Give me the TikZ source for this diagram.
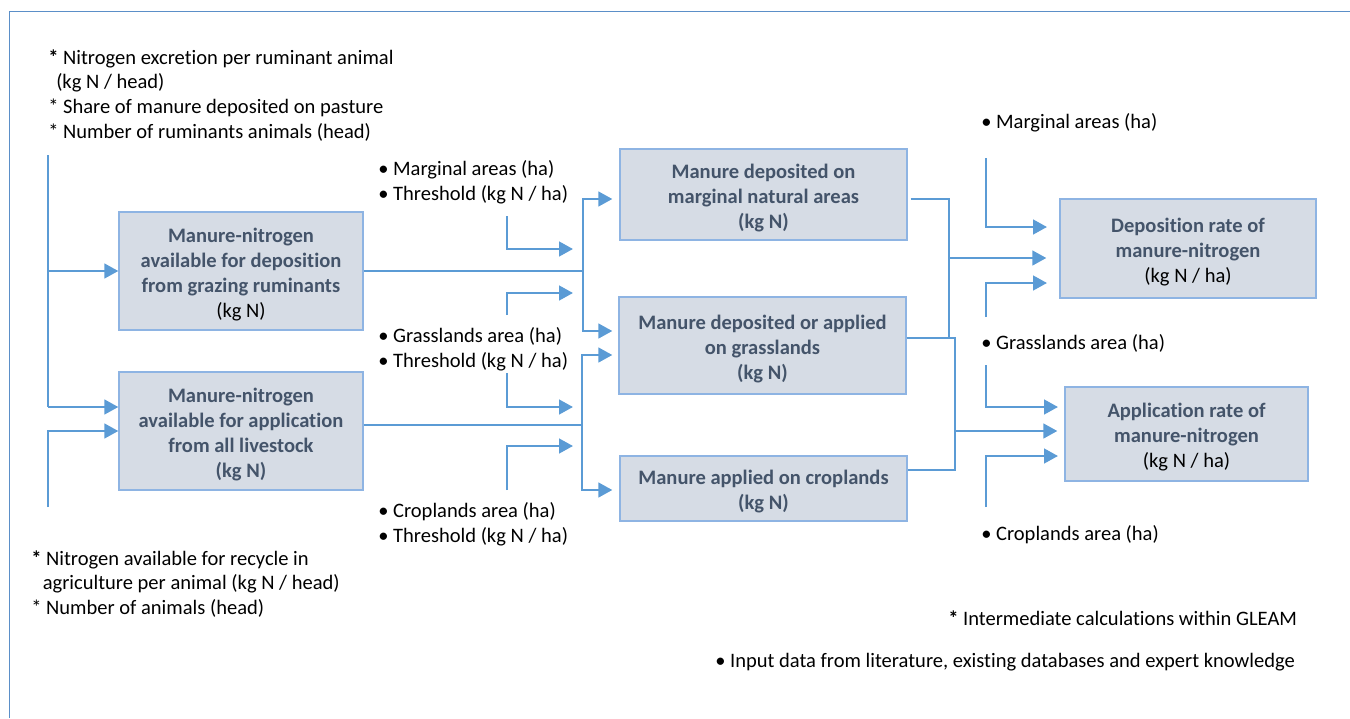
\documentclass[tikz,border=0pt]{standalone}
\usepackage{fontspec}
\setmainfont{Carlito}[Ligatures=NoCommon]
\usetikzlibrary{arrows.meta,calc}

\definecolor{flow}{HTML}{5B9BD5}
\definecolor{boxfill}{HTML}{D6DCE5}
\definecolor{boxline}{HTML}{8EB4E3}
\definecolor{titletext}{HTML}{44546A}
\definecolor{framecol}{HTML}{5B8FC8}

\newcommand{\dfont}{\fontsize{15.4pt}{18.75pt}\selectfont}
\newcommand{\plain}[1]{{\mdseries\color{black}#1}}

\tikzset{
  calcbox/.style={draw=boxline, line width=1pt, fill=boxfill, inner sep=0pt},
  boxtext/.style={align=center, inner sep=0pt, font=\dfont\bfseries,
    text=titletext, yshift=-2.3pt},
  flowline/.style={draw=flow, line width=1.9pt},
  flowarrow/.style={flowline, -{Triangle[length=10.5pt,width=11pt]}},
  note/.style={anchor=base west, inner sep=0pt, text=black, font=\dfont},
}

\begin{document}
\begin{tikzpicture}[x=0.75pt,y=-0.75pt]
\useasboundingbox (0,0) rectangle (1350,718);

% outer frame (top and left edges)
\draw[framecol, line width=0.8pt] (9.5,718) -- (9.5,11.5) -- (1350,11.5);

% calculation boxes
\node[calcbox, minimum width=183pt, minimum height=88.5pt] (A) at (241,271) {};
\node[calcbox, minimum width=183pt, minimum height=88.5pt] (B) at (241,431) {};
\node[calcbox, minimum width=215.25pt, minimum height=68.25pt] (C) at (763.5,194.5) {};
\node[calcbox, minimum width=215.25pt, minimum height=72.75pt] (D) at (762.5,345.5) {};
\node[calcbox, minimum width=215.25pt, minimum height=48.75pt] (E) at (763.5,488.5) {};
\node[calcbox, minimum width=192pt, minimum height=74.25pt] (F) at (1188,248.5) {};
\node[calcbox, minimum width=182.25pt, minimum height=70.5pt] (G) at (1186.5,434) {};

% box titles
\node[boxtext] (At) at (A.center)
  {Manure-nitrogen\\available for deposition\\from grazing ruminants\\\plain{(kg N)}};
\node[boxtext] (Bt) at (B.center)
  {Manure-nitrogen\\available for application\\from all livestock\\(kg N)};
\node[boxtext] (Ct) at (C.center) {Manure deposited on\\marginal natural areas\\(kg N)};
\node[boxtext] (Dt) at (D.center) {Manure deposited or applied\\on grasslands\\(kg N)};
\node[boxtext] (Et) at (E.center) {Manure applied on croplands\\(kg N)};
\node[boxtext] (Ft) at (F.center) {Deposition rate of\\manure-nitrogen\\\plain{(kg N / ha)}};
\node[boxtext] (Gt) at (G.center) {Application rate of\\manure-nitrogen\\\plain{(kg N / ha)}};

% input notes
\node[note] (n1) at (48,64) {{\bfseries *} Nitrogen excretion per ruminant animal};
\node[note] (n2) at (56,88.5) {(kg N / head)};
\node[note] (n3) at (48,113) {* Share of manure deposited on pasture};
\node[note] (n4) at (48,138) {* Number of ruminants animals (head)};

\node[note] (m1) at (31,565) {{\bfseries *} Nitrogen available for recycle in};
\node[note] (m2) at (42.5,589.5) {agriculture per animal (kg N / head)};
\node[note] (m3) at (31,614) {* Number of animals (head)};

\node[note] (p1) at (378,175) {• Marginal areas (ha)};
\node[note] (p2) at (378,200) {• Threshold (kg N / ha)};
\node[note] (p3) at (378,342.5) {• Grasslands area (ha)};
\node[note] (p4) at (378,367.5) {• Threshold (kg N / ha)};
\node[note] (p5) at (378,517) {• Croplands area (ha)};
\node[note] (p6) at (378,542) {• Threshold (kg N / ha)};

\node[note] (q1) at (981,128.5) {• Marginal areas (ha)};
\node[note] (q2) at (981,349) {• Grasslands area (ha)};
\node[note] (q3) at (981,540) {• Croplands area (ha)};

\node[note] (k1) at (948,625) {{\bfseries *} Intermediate calculations within GLEAM};
\node[note] (k2) at (715,667) {• Input data from literature, existing databases and expert knowledge};

% feeds into the two left boxes
\coordinate (l1top) at (48,155);
\coordinate (l1bot) at (48,407);
\coordinate (l2bot) at (48,507);
\draw[flowline] (l1top) -- (l1bot);
\draw[flowarrow] (l1top |- A.west) -- (A.west);
\draw[flowarrow] (l1bot) -- (l1bot -| B.west);
\draw[flowarrow] (l2bot) |- (B.west);

% grazing manure split to marginal areas and grasslands
\coordinate (j1) at (583,271);
\draw[flowline] (A.east) -- (j1);
\draw[flowarrow] (j1) |- ($(C.west)+(-7,4.5)$);
\draw[flowarrow] (j1) |- ($(D.west)+(-6,-14.5)$);
\coordinate (i1) at (507,216);
\coordinate (i1e) at (573,249);
\coordinate (i2) at (507,315);
\coordinate (i2e) at (573,293);
\draw[flowarrow] (i1) |- (i1e);
\draw[flowarrow] (i2) |- (i2e);

% livestock manure split to grasslands and croplands
\coordinate (j2) at (582,425);
\draw[flowline] ($(B.east)+(0,-6)$) -- (j2);
\draw[flowarrow] (j2) |- ($(D.west)+(-6,9.5)$);
\draw[flowarrow] (j2) |- ($(E.west)+(-7,1.5)$);
\coordinate (i3) at (507,373);
\coordinate (i3e) at (573,407);
\coordinate (i4) at (507,490);
\coordinate (i4e) at (573,446);
\draw[flowarrow] (i3) |- (i3e);
\draw[flowarrow] (i4) |- (i4e);

% deposition rate
\coordinate (j3) at (949,258);
\draw[flowline] ($(C.east)+(3,4.5)$) -| (j3);
\draw[flowline] ($(D.east)+(0,-7.5)$) -| (j3);
\draw[flowarrow] (j3) -- ($(F.west)+(-13,9.5)$);
\coordinate (r1) at (986,158);
\coordinate (r1e) at (1047,227);
\coordinate (r2) at (986,317);
\coordinate (r2e) at (1047,283);
\draw[flowarrow] (r1) |- (r1e);
\draw[flowarrow] (r2) |- (r2e);

% application rate
\coordinate (j4) at (955,431);
\draw[flowline] ($(D.east)+(0,-7.5)$) -| (955,470) -- (E.east |- 0,470);
\draw[flowarrow] (j4) -- ($(G.west)+(-7,-3)$);
\coordinate (r3) at (986,365);
\coordinate (r3e) at (1058,407);
\coordinate (r4) at (986,507);
\coordinate (r4e) at (1058,456);
\draw[flowarrow] (r3) |- (r3e);
\draw[flowarrow] (r4) |- (r4e);

\end{tikzpicture}
\end{document}
